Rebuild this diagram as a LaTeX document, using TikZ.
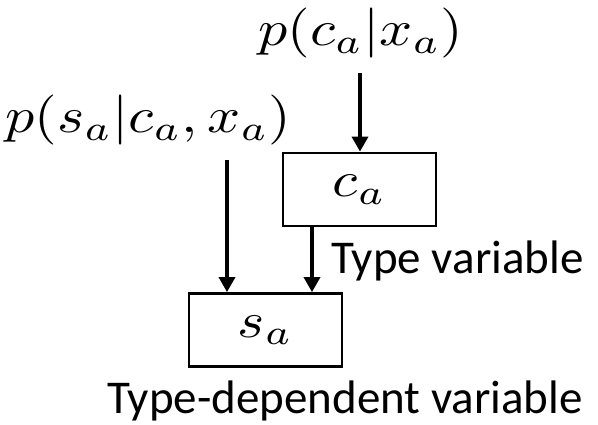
\documentclass[tikz,border=0pt]{standalone}
\usepackage{graphicx}
\usepackage{fontspec}
\setmainfont{Carlito}
\usetikzlibrary{arrows.meta}
\newcommand{\bigmath}[1]{\scalebox{5.8}[5.0]{$#1$}}
\begin{document}
\begin{tikzpicture}[x=1pt,y=1pt,
  box/.style={draw,line width=2.8pt,rectangle,inner sep=0pt},
  conn/.style={line width=3.5pt,-{Triangle[length=15pt,width=16pt]}},
  lbl/.style={inner sep=0pt,font=\fontsize{47}{54}\selectfont},
  mth/.style={inner sep=0pt}]
\useasboundingbox (0,0) rectangle (598,-425);
\node[box,minimum width=153pt,minimum height=73pt] (ca) at (359.5,-189.5) {\bigmath{c_a}};
\node[box,minimum width=153pt,minimum height=73pt] (sa) at (265.5,-330) {\bigmath{s_a}};
\node[mth] (ptop) at (361,-33.5) {\bigmath{p(c_a|x_a)}};
\node[mth] (pleft) at (148.5,-120.5) {\bigmath{p(s_a|c_a,x_a)}};
\node[lbl,anchor=base west] (tv) at (331,-273) {Type variable};
\node[lbl,anchor=base west] (tdv) at (107,-413) {Type-dependent variable};
\coordinate (t1) at (360,-73);
\coordinate (t2) at (227,-160);
\coordinate (t3) at (312,-226);
\draw[conn] (t1) -- (t1 |- ca.north);
\draw[conn] (t2) -- (t2 |- sa.north);
\draw[conn] (t3 |- ca.south) -- (t3 |- sa.north);
\end{tikzpicture}
\end{document}
